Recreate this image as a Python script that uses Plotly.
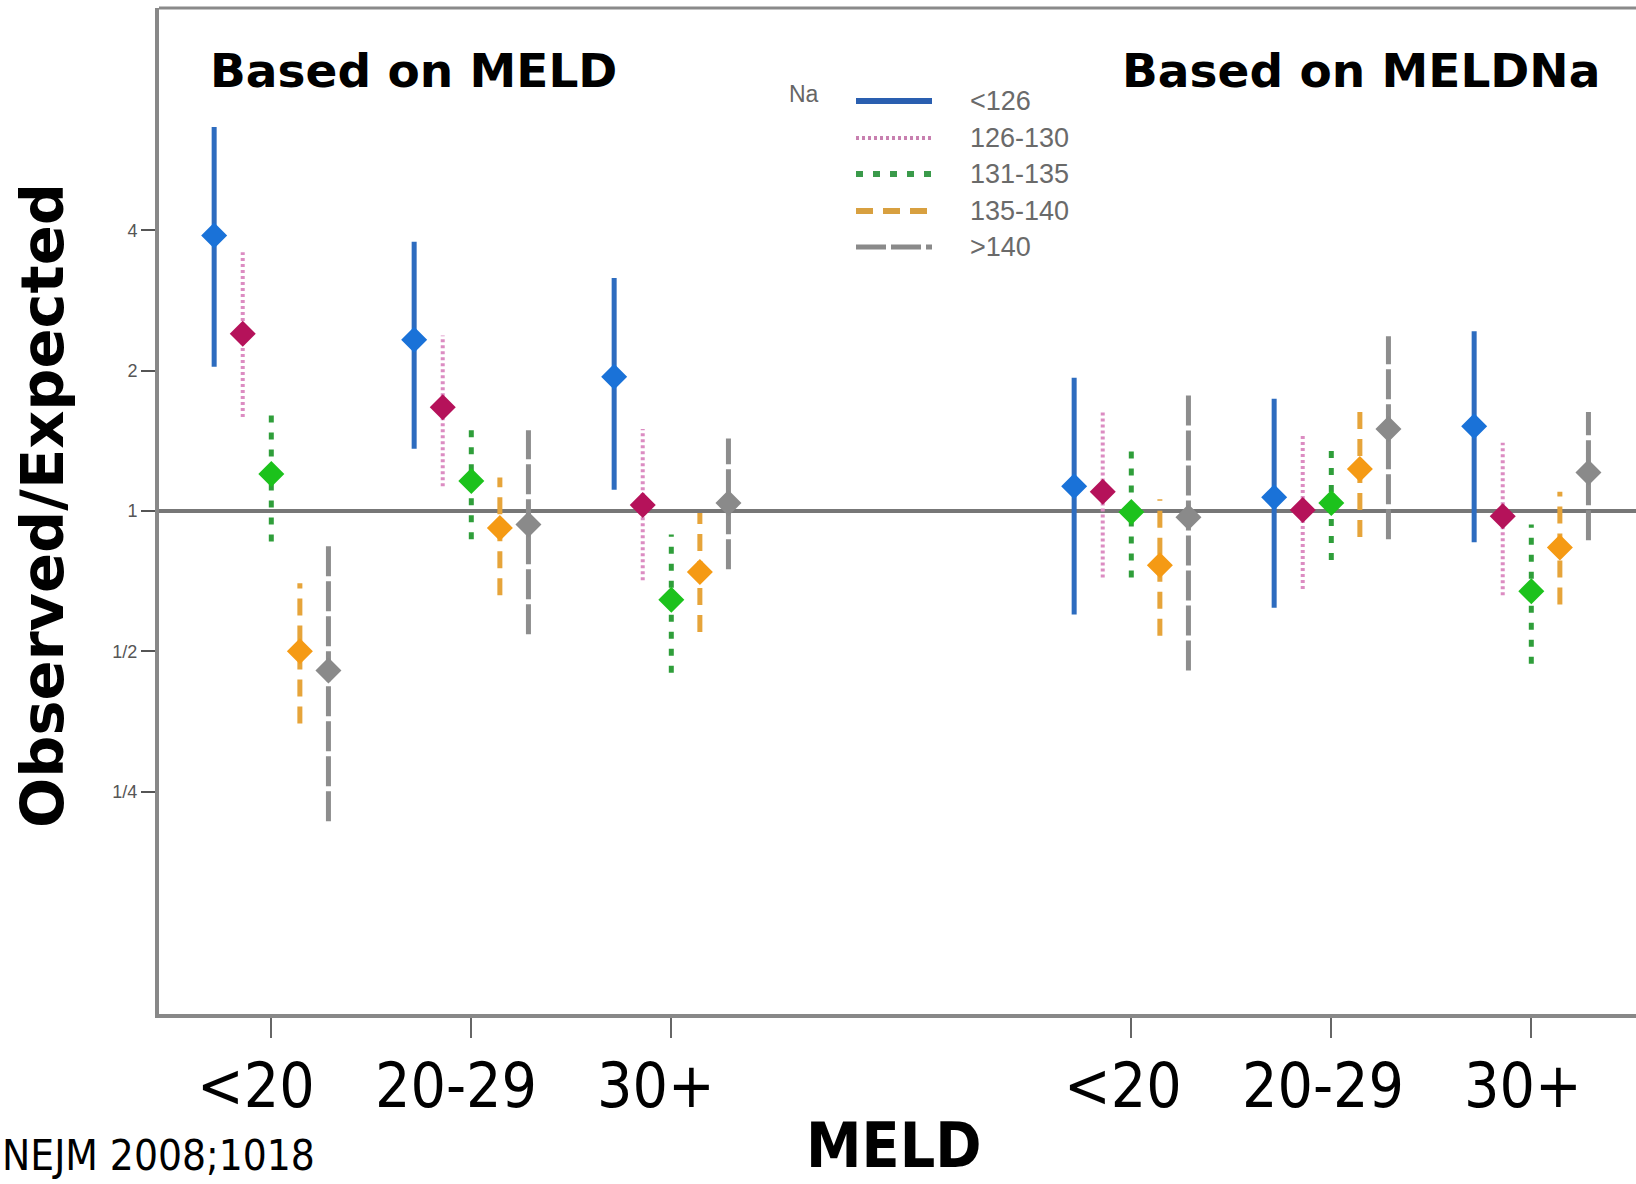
import plotly.graph_objects as go

# MELD categories, shown once for each scoring basis
meld_groups = ["<20", "20-29", "30+"]
panels = ["Based on MELD", "Based on MELDNa"]

# Serum sodium strata
na_levels = ["<126", "126-130", "131-135", "135-140", ">140"]

# Observed/expected ratios with 95% CI, per panel -> per MELD group -> per Na stratum
meld_est = [
    [3.90, 2.40, 1.20, 0.50, 0.455],
    [2.33, 1.67, 1.16, 0.92, 0.935],
    [1.94, 1.03, 0.645, 0.74, 1.04],
]
meld_lo = [
    [2.04, 1.59, 0.86, 0.35, 0.216],
    [1.36, 1.13, 0.87, 0.66, 0.544],
    [1.11, 0.71, 0.45, 0.55, 0.75],
]
meld_hi = [
    [6.66, 3.59, 1.62, 0.70, 0.857],
    [3.78, 2.38, 1.53, 1.18, 1.49],
    [3.16, 1.50, 0.89, 0.99, 1.43],
]
meldna_est = [
    [1.13, 1.10, 0.995, 0.765, 0.97],
    [1.07, 1.005, 1.04, 1.23, 1.50],
    [1.52, 0.975, 0.673, 0.835, 1.21],
]
meldna_lo = [
    [0.60, 0.72, 0.72, 0.54, 0.455],
    [0.62, 0.68, 0.785, 0.88, 0.87],
    [0.857, 0.66, 0.47, 0.63, 0.866],
]
meldna_hi = [
    [1.93, 1.63, 1.35, 1.06, 1.78],
    [1.74, 1.46, 1.36, 1.67, 2.37],
    [2.43, 1.40, 0.935, 1.10, 1.63],
]

y_tick_vals = [0.25, 0.5, 1, 2, 4]
y_tick_text = ["1/4", "1/2", "1", "2", "4"]

# styling per sodium stratum
line_colors = ["#2d6cbf", "#dc8cc2", "#2f9e3a", "#e6a43a", "#8d8d8d"]
marker_colors = ["#1a72d8", "#b5125a", "#1cc21c", "#f59a14", "#8a8a8a"]
line_widths = [5, 4, 5, 5, 5]
dashes = ["solid", "3px,3px", "7px,10px", "17px,10px", "30px,5px"]
legend_colors = ["#2a5fb0", "#c880b0", "#3a9a4a", "#d8a040", "#8a8a8a"]
legend_widths = [6, 4, 6, 6, 5]

W, H = 1636, 1184
L, R, T, B = 159, 0, 8, 170
PW, PH = W - L - R, H - T - B

panel_gap = 2.3     # distance between last group of panel 1 and first of panel 2
offset_step = 1 / 7  # horizontal spacing of sodium strata within a group

group_x = []
for p in range(len(panels)):
    for g in range(len(meld_groups)):
        group_x.append(g + p * (len(meld_groups) - 1 + panel_gap))

est_all = meld_est + meldna_est
lo_all = meld_lo + meldna_lo
hi_all = meld_hi + meldna_hi

fig = go.Figure()

for s, name in enumerate(na_levels):
    off = (s - 2) * offset_step
    xs, ys, mx, my = [], [], [], []
    for gi, gx in enumerate(group_x):
        x = gx + off
        xs += [x, x, None]
        ys += [lo_all[gi][s], hi_all[gi][s], None]
        mx.append(x)
        my.append(est_all[gi][s])
    fig.add_trace(go.Scatter(
        x=xs, y=ys, mode="lines", showlegend=False, hoverinfo="skip",
        line=dict(color=line_colors[s], width=line_widths[s], dash=dashes[s]),
    ))
    fig.add_trace(go.Scatter(
        x=mx, y=my, mode="markers", name=name, showlegend=False,
        marker=dict(symbol="diamond", size=20, color=marker_colors[s],
                    line=dict(width=0)),
    ))


def px(xp):
    return (xp - L) / PW


def py(yp):
    return (T + PH - yp) / PH


shapes = [
    # reference line at ratio 1
    dict(type="line", xref="paper", yref="y", x0=0, x1=1, y0=1, y1=1,
         line=dict(color="#777777", width=4), layer="below"),
    # top frame edge
    dict(type="line", xref="paper", yref="paper", x0=0, x1=1, y0=1, y1=1,
         line=dict(color="#8a8a8a", width=3)),
]

annotations = [
    dict(text="<b>Based on MELD</b>", xref="paper", yref="paper",
         x=px(208), y=py(71), xanchor="left", yanchor="middle", showarrow=False,
         font=dict(family="DejaVu Sans", size=47, color="#000")),
    dict(text="<b>Based on MELDNa</b>", xref="paper", yref="paper",
         x=px(1602), y=py(71), xanchor="right", yanchor="middle", showarrow=False,
         font=dict(family="DejaVu Sans", size=47, color="#000")),
    dict(text="<b>Observed/Expected</b>", xref="paper", yref="paper",
         x=px(42), y=py(506), xanchor="center", yanchor="middle", showarrow=False,
         textangle=-90, font=dict(family="DejaVu Sans", size=59, color="#000")),
    dict(text="<b>MELD</b>", xref="paper", yref="paper",
         x=px(894), y=py(1145), xanchor="center", yanchor="middle", showarrow=False,
         font=dict(family="DejaVu Sans Condensed", size=62, color="#000")),
    dict(text="NEJM 2008;1018", xref="paper", yref="paper",
         x=px(0), y=py(1155), xanchor="left", yanchor="middle", showarrow=False,
         font=dict(family="DejaVu Sans Condensed", size=42, color="#000")),
    dict(text="Na", xref="paper", yref="paper",
         x=px(787), y=py(94), xanchor="left", yanchor="middle", showarrow=False,
         font=dict(family="Liberation Sans", size=23, color="#666666")),
]

# MELD group labels under each tick
for i, gx in enumerate(group_x):
    annotations.append(dict(
        text=meld_groups[i % len(meld_groups)], xref="x", yref="paper",
        x=gx, y=py(1085), xanchor="center", yanchor="middle", showarrow=False,
        xshift=-15 if i < len(meld_groups) else -8,
        font=dict(family="DejaVu Sans Condensed", size=62, color="#000")))

legend_rows = [101, 138, 174, 211, 247]
for s, name in enumerate(na_levels):
    yy = py(legend_rows[s])
    shapes.append(dict(type="line", xref="paper", yref="paper",
                       x0=px(856), x1=px(932), y0=yy, y1=yy,
                       line=dict(color=legend_colors[s], width=legend_widths[s],
                                 dash=dashes[s])))
    annotations.append(dict(text=name, xref="paper", yref="paper",
                            x=px(968), y=yy, xanchor="left", yanchor="middle",
                            showarrow=False,
                            font=dict(family="Liberation Sans", size=27,
                                      color="#6a6a6a")))

x_lo = -(271.3 - L) / 200
x_hi = x_lo + PW / 200

fig.update_layout(
    width=W, height=H,
    margin=dict(l=L, r=R, t=T, b=B),
    paper_bgcolor="white", plot_bgcolor="white",
    showlegend=False,
    shapes=shapes,
    annotations=annotations,
    xaxis=dict(
        range=[x_lo, x_hi],
        tickvals=group_x,
        showticklabels=False,
        ticks="outside", ticklen=20, tickwidth=2, tickcolor="#666666",
        showline=True, linewidth=4, linecolor="#888888",
        showgrid=False, zeroline=False,
    ),
    yaxis=dict(
        type="log",
        range=[-1.0789, 1.0789],
        tickvals=y_tick_vals,
        ticktext=y_tick_text,
        ticks="outside", ticklen=14, tickwidth=2, tickcolor="#555555",
        showline=True, linewidth=4, linecolor="#888888",
        showgrid=False, zeroline=False,
        tickfont=dict(family="Liberation Sans", size=18, color="#555555"),
    ),
)

fig.write_html("out.html")
